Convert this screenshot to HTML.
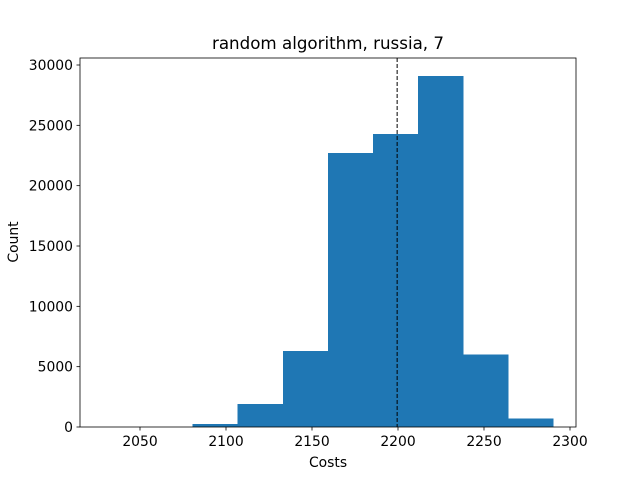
<!DOCTYPE html>
<html><head><meta charset="utf-8"><style>
body{margin:0;background:#fff;}
text{font-family:"DejaVu Sans","Liberation Sans",sans-serif;}
</style></head><body>
<svg id="chart" width="640" height="480" xmlns="http://www.w3.org/2000/svg"></svg>
<script>
const binStart = 2028.2;
const binWidth = 26.2;
const counts = [2, 10, 250, 1900, 6300, 22700, 24300, 29100, 6000, 700];
const xTicks = [2050, 2100, 2150, 2200, 2250, 2300];
const yTicks = [0, 5000, 10000, 15000, 20000, 25000, 30000];
const meanLine = 2199.5;

const L=80,R=576,T=58,B=427;
const X=v=>140+(v-2050)*1.72;
const Y=v=>427-v*362/30000;
const svg=document.getElementById('chart');
const NS='http://www.w3.org/2000/svg';
function mk(tag,attrs,parent){const e=document.createElementNS(NS,tag);for(const k in attrs)e.setAttribute(k,attrs[k]);(parent||svg).appendChild(e);return e;}

counts.forEach((c,i)=>{
  const x0=X(binStart+i*binWidth),x1=X(binStart+(i+1)*binWidth);
  const r=mk('rect',{x:x0,y:Y(c),width:x1-x0+0.6,height:B-Y(c),fill:'#1f77b4','shape-rendering':'crispEdges'});
  
  
});
const ml=mk('line',{x1:X(meanLine),x2:X(meanLine),y1:T,y2:B,stroke:'#000','stroke-width':1,'stroke-dasharray':'4,2'});


const fr=mk('rect',{x:L,y:T,width:R-L,height:B-T,fill:'none',stroke:'#000','stroke-width':0.8});


xTicks.forEach(v=>{
  mk('line',{x1:X(v),x2:X(v),y1:B,y2:B+3.5,stroke:'#000','stroke-width':0.8});
  const t=mk('text',{x:X(v),y:B+19,'text-anchor':'middle','font-size':13.9});
  t.textContent=v;
  
  
});
yTicks.forEach(v=>{
  mk('line',{x1:L,x2:L-3.5,y1:Y(v),y2:Y(v),stroke:'#000','stroke-width':0.8});
  const t=mk('text',{x:L-7,y:Y(v)+5,'text-anchor':'end','font-size':13.9});
  t.textContent=v;
  
  
});
const xt=mk('text',{x:328,y:467,'text-anchor':'middle','font-size':13.9});
xt.textContent='Costs';


const yt=mk('text',{x:18,y:242,'text-anchor':'middle','font-size':13.9,transform:'rotate(-90 18 242)'});
yt.textContent='Count';


const tt=mk('text',{x:328,y:49,'text-anchor':'middle','font-size':16.7});
tt.textContent='random algorithm, russia, 7';


</script>
</body></html>
